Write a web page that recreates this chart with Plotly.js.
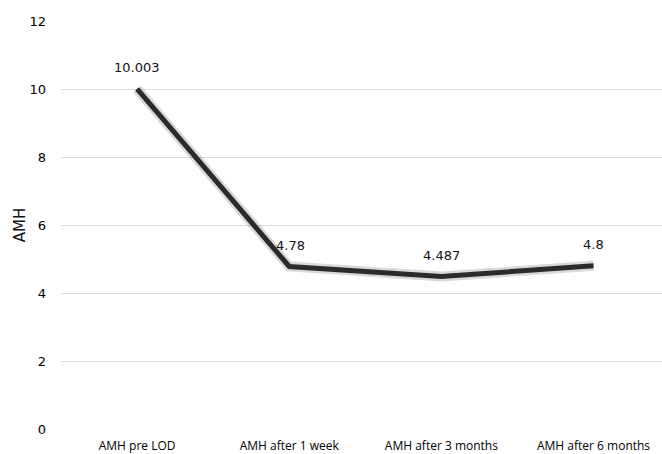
<!DOCTYPE html>
<html>
<head>
<meta charset="utf-8">
<script src="https://cdn.plot.ly/plotly-3.0.1.min.js"></script>
<style>html,body{margin:0;padding:0;background:#fff;}#chart{width:662px;height:454px;}</style>
</head>
<body>
<div id="chart"></div>
<script>
var categories = ["AMH pre LOD", "AMH after 1 week", "AMH after 3 months", "AMH after 6 months"];
var amhValues = [10.003, 4.78, 4.487, 4.8];
var valueLabels = ["10.003", "4.78", "4.487", "4.8"];
var yTicks = [0, 2, 4, 6, 8, 10, 12];

var xIdx = categories.map(function(c, i){ return i; });

var shadow = {
  x: xIdx, y: amhValues, type: 'scatter', mode: 'lines',
  line: {color: 'rgba(0,0,0,0.15)', width: 10},
  hoverinfo: 'skip', showlegend: false
};
var main = {
  x: xIdx, y: amhValues, type: 'scatter', mode: 'lines',
  line: {color: '#2b2b2b', width: 5},
  showlegend: false
};

var annotations = xIdx.map(function(i){
  return {
    x: i, y: amhValues[i], xref: 'x', yref: 'y', text: valueLabels[i],
    showarrow: false, yshift: 21, xshift: (i === 1 ? 1 : 0),
    font: {family: 'DejaVu Sans, sans-serif', size: 13, color: '#111'}
  };
});

var layout = {
  width: 662, height: 454,
  margin: {l: 61, r: 0, t: 21, b: 25},
  paper_bgcolor: '#fff', plot_bgcolor: '#fff',
  font: {family: 'DejaVu Sans, sans-serif', size: 13, color: '#111'},
  annotations: annotations,
  xaxis: {
    range: [-0.5, 3.45], tickvals: xIdx, ticktext: categories,
    showgrid: false, zeroline: false, showline: false,
    ticks: '', ticklabelstandoff: 8,
    tickfont: {family: 'Open Sans, sans-serif', size: 12, color: '#000'}
  },
  yaxis: {
    range: [0, 12], tickvals: yTicks, showgrid: true, gridcolor: '#dcdcdc', gridwidth: 1,
    zeroline: false, showline: false, ticks: '', ticklabelstandoff: 14,
    tickfont: {family: 'DejaVu Sans, sans-serif', size: 13, color: '#000'},
    title: {text: 'AMH', font: {family: 'DejaVu Sans, sans-serif', size: 15, color: '#111'}, standoff: 0}
  }
};

Plotly.newPlot('chart', [shadow, main], layout, {displayModeBar: false, staticPlot: true});
</script>
</body>
</html>
